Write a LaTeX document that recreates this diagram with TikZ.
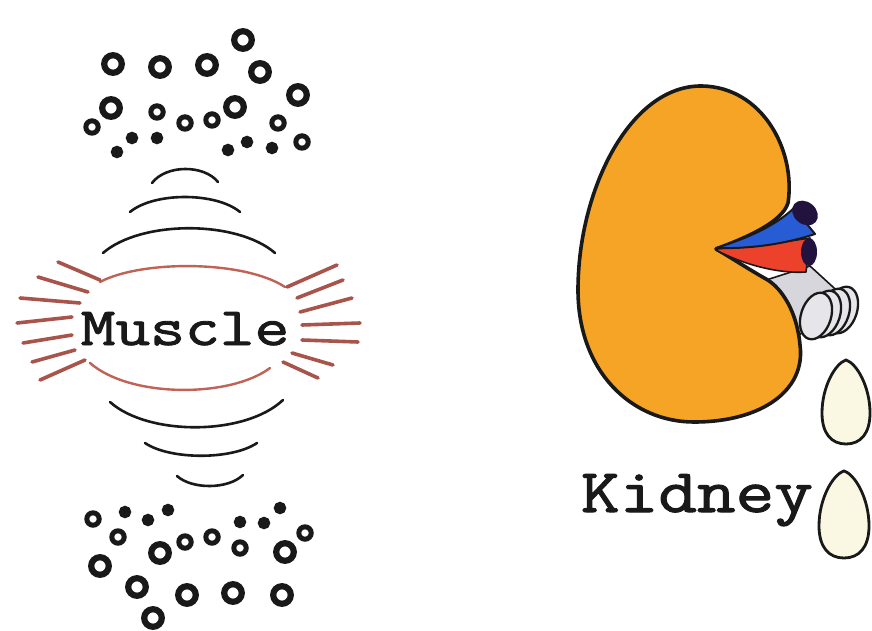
\documentclass[tikz,border=0pt]{standalone}
\usepackage{fontspec}
\newfontfamily\mono{Latin Modern Mono}[FakeBold=1.6]
\definecolor{ink}{RGB}{25,25,25}
\definecolor{fringe}{RGB}{168,84,74}
\definecolor{membrane}{RGB}{192,98,86}
\definecolor{cortex}{RGB}{246,164,38}
\definecolor{vein}{RGB}{40,92,212}
\definecolor{artery}{RGB}{236,66,44}
\definecolor{vesselend}{RGB}{34,18,62}
\definecolor{ureter}{RGB}{214,214,220}
\definecolor{dropfill}{RGB}{250,248,226}
\tikzset{
  bigring/.style={draw=ink, line width=6.2pt},
  midring/.style={draw=ink, line width=5pt},
  dotring/.style={draw=ink, line width=5.6pt},
  wave/.style={draw=ink, line width=2.6pt, line cap=round},
  fibre/.style={draw=fringe, line width=3.6pt, line cap=round},
  sheath/.style={draw=membrane, line width=2.4pt, line cap=round},
  label/.style={text=ink, inner sep=0pt, anchor=base, transform shape}
}
\newcommand{\bigo}[2]{\draw[bigring] (#1,#2) circle (8.8);}
\newcommand{\mido}[2]{\draw[midring] (#1,#2) circle (6.2);}
\newcommand{\doto}[2]{\draw[dotring] (#1,#2) circle (3.3);}
% egg-shaped drop: centre x, top, bottom, half width
\newcommand{\dropshape}[4]{%
  \filldraw[fill=dropfill, draw=ink, line width=2.8pt]
  (#1,#2) .. controls ({#1+0.45*#4},{#2+0.04*(#3-#2)}) and ({#1+#4},{#2+0.32*(#3-#2)}) ..
  ({#1+#4},{#2+0.63*(#3-#2)}) .. controls ({#1+#4},{#2+0.88*(#3-#2)}) and ({#1+0.6*#4},#3) ..
  (#1,#3) .. controls ({#1-0.6*#4},#3) and ({#1-#4},{#2+0.88*(#3-#2)}) ..
  ({#1-#4},{#2+0.63*(#3-#2)}) .. controls ({#1-#4},{#2+0.32*(#3-#2)}) and ({#1-0.45*#4},{#2+0.04*(#3-#2)}) ..
  (#1,#2) -- cycle;}
\begin{document}
\begin{tikzpicture}[x=1pt, y=-1pt]
\useasboundingbox[fill=white] (0,0) rectangle (872,631);

% ---- particles above the muscle ----
\bigo{113}{64}\bigo{160}{67}\bigo{207}{65}\bigo{243}{40}\bigo{260}{72}\bigo{298}{95}
\bigo{111}{108}\bigo{235}{107}
\mido{92}{127}\mido{157}{112}\mido{185}{123}\mido{212}{120}\mido{278}{123}\mido{302}{142}
\doto{117}{152}\doto{132}{138}\doto{157}{138}\doto{228}{150}\doto{247}{142}\doto{272}{148}

% ---- particles below the muscle ----
\doto{125}{512}\doto{148}{520}\doto{168}{510}\doto{240}{522}\doto{264}{523}\doto{280}{508}
\mido{93}{519}\mido{118}{537}\mido{185}{542}\mido{212}{537}\mido{240}{548}\mido{305}{533}
\bigo{160}{553}\bigo{100}{566}\bigo{137}{587}\bigo{187}{595}\bigo{233}{593}\bigo{282}{595}
\bigo{153}{618}\bigo{285}{552}

% ---- waves around the muscle ----
\draw[wave] (152,183) .. controls (166,164.5) and (204,164.5) .. (218,182);
\draw[wave] (130,212) .. controls (154,192) and (216,192) .. (240,212);
\draw[wave] (103,253) .. controls (141,220) and (237,220) .. (275,253);
\draw[wave] (110,402) .. controls (148,436) and (245,436) .. (283,400);
\draw[wave] (145,443) .. controls (170,460) and (232,460) .. (257,443);
\draw[wave] (177,476) .. controls (192,489.5) and (228,489.5) .. (243,475);

% ---- muscle body ----
\draw[sheath] (100,282) .. controls (141,260) and (244,260) .. (285,287);
\draw[sheath] (90,363) .. controls (130,398) and (230,398) .. (270,368);
\foreach \a/\b/\c/\d in {58/262/100/280, 38/277/88/292, 20/298/80/303, 17/323/72/317,
                         23/343/72/335, 32/362/75/350, 40/380/85/360}
  \draw[fibre] (\a,\b) -- (\c,\d);
\foreach \a/\b/\c/\d in {287/287/337/265, 297/298/343/280, 300/312/352/298, 302/325/360/323,
                         302/340/358/342, 292/353/333/365, 283/362/318/378}
  \draw[fibre] (\a,\b) -- (\c,\d);
\node[label, font=\mono\fontsize{54}{56}\selectfont, xscale=1.25] (muscle) at (185,345) {Muscle};

% ---- ureter with its coils (behind the kidney) ----
\filldraw[fill=ureter, draw=ink, line width=1.6pt]
  (760,282) -- (810,266) -- (845,298) -- (798,336) -- cycle;
\foreach \cx/\cy in {842/310, 834/312, 825/314, 816/316}
  \filldraw[fill=ureter!60!white, draw=ink, line width=2.3pt, rotate around={-18:(\cx,\cy)}]
    (\cx,\cy) ellipse (15 and 24);

% ---- kidney ----
\filldraw[fill=cortex, draw=ink, line width=3.6pt, line join=round]
  (716,249) .. controls (748,237) and (782,222) .. (788,203)
  .. controls (796,150) and (762,87) .. (702,86)
  .. controls (630,85) and (578,190) .. (578,290)
  .. controls (578,372) and (632,422) .. (694,422)
  .. controls (762,422) and (806,390) .. (800,345)
  .. controls (797,312) and (782,288) .. (766,279)
  .. controls (750,270) and (730,257) .. (716,249) -- cycle;

% renal artery and vein
\filldraw[fill=artery, draw=ink, line width=1.6pt, line join=round]
  (716,249) .. controls (750,246) and (785,242) .. (810,238)
  -- (806,272) .. controls (778,274) and (742,264) .. (716,250) -- cycle;
\fill[vesselend] (809,252) ellipse (8 and 14);
\filldraw[fill=vein, draw=ink, line width=2pt, line join=round]
  (716,248) .. controls (748,238) and (775,226) .. (794,208)
  -- (815,234) .. controls (785,244) and (750,249) .. (716,248) -- cycle;
\fill[vesselend, rotate around={-40:(805,213)}] (805,213) ellipse (14 and 11);

\node[label, font=\mono\fontsize{62}{64}\selectfont, xscale=1.21] (kidney) at (697,512) {Kidney};

% ---- drops ----
\dropshape{846}{360}{444}{24}
\dropshape{844}{471}{558}{25}
\end{tikzpicture}
\end{document}
